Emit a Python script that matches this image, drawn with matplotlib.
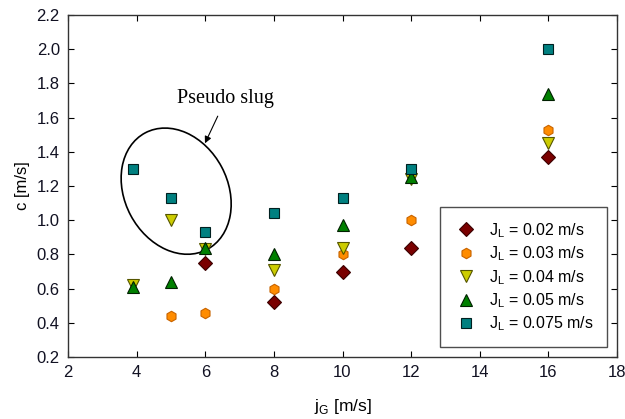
import matplotlib
matplotlib.use('Agg')
import matplotlib.pyplot as plt
from matplotlib.patches import Ellipse
from matplotlib.transforms import ScaledTranslation

# Propagation velocity c vs superficial gas velocity jG, per liquid velocity JL
jg_002 = [6, 8, 10, 12, 16]
c_002 = [0.75, 0.52, 0.70, 0.84, 1.37]

jg_003 = [5, 6, 8, 10, 12, 16]
c_003 = [0.44, 0.46, 0.60, 0.80, 1.00, 1.53]

jg_004 = [3.9, 5, 6, 8, 10, 12, 16]
c_004 = [0.62, 1.00, 0.83, 0.71, 0.84, 1.24, 1.45]

jg_005 = [3.9, 5, 6, 8, 10, 12, 16]
c_005 = [0.61, 0.64, 0.84, 0.80, 0.97, 1.25, 1.74]

jg_0075 = [3.9, 5, 6, 8, 10, 12, 16]
c_0075 = [1.30, 1.13, 0.93, 1.04, 1.13, 1.30, 2.00]

labels = ['0.02', '0.03', '0.04', '0.05', '0.075']

plt.rcParams['font.family'] = ['Liberation Sans', 'DejaVu Sans']
plt.rcParams['mathtext.fontset'] = 'custom'
plt.rcParams['mathtext.rm'] = 'Liberation Sans'

fig = plt.figure(figsize=(6.25, 4.19), dpi=100)
ax = fig.add_axes([0.109, 0.148, 0.878, 0.816])

series = [
    (jg_002, c_002, 'D', '#7a0000', '#3a0000', 7),
    (jg_003, c_003, 'h', '#ff8c00', '#c86400', 7.5),
    (jg_004, c_004, 'v', '#cccc00', '#555500', 8),
    (jg_005, c_005, '^', '#008000', '#002000', 8),
    (jg_0075, c_0075, 's', '#008080', '#002020', 7),
]
for (x, y, m, fc, ec, ms), lab in zip(series, labels):
    ax.plot(x, y, linestyle='none', marker=m, markersize=ms,
            markerfacecolor=fc, markeredgecolor=ec, markeredgewidth=0.8,
            label=r'J$_\mathrm{L}$ = ' + lab + ' m/s')

ax.set_xlim(2, 18)
ax.set_ylim(0.2, 2.2)
ax.set_xticks(range(2, 19, 2))
ax.set_yticks([0.2 + 0.2 * i for i in range(11)])
ax.set_yticklabels(['%.1f' % (0.2 + 0.2 * i) for i in range(11)])
ax.tick_params(direction='in', top=True, right=True, length=4,
               labelsize=12, labelcolor='#111122', pad=6)
for sp in ax.spines.values():
    sp.set_linewidth(1.0)
    sp.set_color('#333333')

ax.set_xlabel(r'j$_\mathrm{G}$ [m/s]', fontsize=12.5, labelpad=12)
ax.set_ylabel('c [m/s]', fontsize=12, labelpad=5)

leg = ax.legend(loc='lower right', bbox_to_anchor=(0.982, 0.029),
                borderaxespad=0, fontsize=11.5, frameon=True, fancybox=False,
                edgecolor='#222222', handletextpad=0.6, labelspacing=0.3,
                borderpad=0.85, handlelength=1.6)
leg.get_frame().set_linewidth(1.0)

# ellipse around the pseudo slug points, sized in inches around a data centre
ell = Ellipse((0, 0), width=1.32, height=1.03, angle=118, fill=False,
              edgecolor='black', linewidth=1.2,
              transform=fig.dpi_scale_trans + ScaledTranslation(5.15, 1.17, ax.transData))
ax.add_patch(ell)

ax.annotate('Pseudo slug', xy=(5.99, 1.45), xytext=(6.6, 1.71),
            ha='center', va='center', fontsize=14.5, family='Liberation Serif',
            arrowprops=dict(arrowstyle='-|>', color='black', lw=0.8,
                            shrinkA=4, shrinkB=0, mutation_scale=10))

fig.savefig('out.png', dpi=100)
